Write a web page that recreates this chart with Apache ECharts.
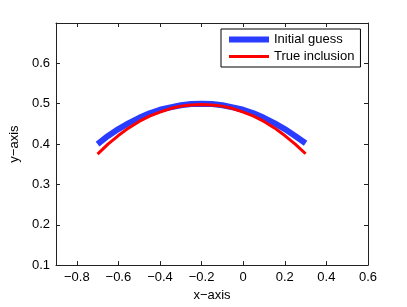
<!DOCTYPE html>
<html><head><meta charset="utf-8">
<script src="https://cdn.jsdelivr.net/npm/echarts@6/dist/echarts.min.js"></script>
<style>html,body{margin:0;padding:0;background:#fff}#c{width:407px;height:307px}</style>
</head><body><div id="c"></div>
<script>
const xValues = [-0.7,-0.65,-0.6,-0.55,-0.5,-0.45,-0.4,-0.35,-0.3,-0.25,-0.2,-0.15,-0.1,-0.05,0,0.05,0.1,0.15,0.2,0.25,0.3];
const initialGuess = [0.400,0.420,0.437,0.452,0.465,0.476,0.485,0.491,0.496,0.499,0.500,0.499,0.496,0.491,0.485,0.476,0.465,0.452,0.437,0.420,0.402];
const trueInclusion = [0.375,0.400,0.421,0.440,0.456,0.469,0.479,0.488,0.494,0.497,0.498,0.497,0.494,0.488,0.479,0.469,0.456,0.440,0.421,0.400,0.376];
const xTicks = [-0.8,-0.6,-0.4,-0.2,0,0.2,0.4,0.6];
const yTicks = [0.1,0.2,0.3,0.4,0.5,0.6];
const seriesNames = ['Initial guess','True inclusion'];
const xLabel = 'x\u2212axis', yLabel = 'y\u2212axis';

const fmt = v => {
  const r = Math.round(v*10)/10;
  return (r === 0 ? '0' : String(r)).replace('-', '\u2212');
};
const font = {fontFamily:'Liberation Sans, Arial, sans-serif', fontSize:13, color:'#000'};
const axisLineStyle = {color:'#222', width:1};
const chart = echarts.init(document.getElementById('c'), null, {renderer:'canvas'});
chart.setOption({
  animation:false,
  grid:{left:53, right:39, top:23, bottom:38, show:false},
  legend:{
    left:221, top:29, orient:'vertical',
    data:[{name:seriesNames[0], icon:'path://M0,0h40v6h-40z'},{name:seriesNames[1], icon:'path://M0,0h40v3h-40z'}],
    itemWidth:40, itemHeight:14, itemGap:4, itemTextGap:5, padding:[4,6,4,8],
    borderColor:'#000', borderWidth:1, borderRadius:0, backgroundColor:'#fff',
    textStyle:Object.assign({}, font), selectedMode:false
  },
  xAxis:[
    {type:'value', min:-0.9, max:0.6, position:'bottom',
     axisLine:{show:true, onZero:false, lineStyle:axisLineStyle},
     axisTick:{show:true, inside:true, length:4, lineStyle:axisLineStyle, customValues:xTicks},
     splitLine:{show:false},
     axisLabel:Object.assign({}, font, {formatter:fmt, margin:6, hideOverlap:false, customValues:xTicks}),
     name:xLabel, nameLocation:'middle', nameGap:22, nameTextStyle:font},
    {type:'value', min:-0.9, max:0.6, position:'top',
     axisLine:{show:true, onZero:false, lineStyle:axisLineStyle},
     axisTick:{show:true, inside:true, length:4, lineStyle:axisLineStyle, customValues:xTicks},
     axisLabel:{show:false}, splitLine:{show:false}}
  ],
  yAxis:[
    {type:'value', min:0.1, max:0.7, position:'left',
     axisLine:{show:true, onZero:false, lineStyle:axisLineStyle},
     axisTick:{show:true, inside:true, length:4, lineStyle:axisLineStyle, customValues:yTicks},
     splitLine:{show:false},
     axisLabel:Object.assign({}, font, {formatter:fmt, margin:6, customValues:yTicks}),
     name:yLabel, nameLocation:'middle', nameGap:28, nameRotate:90, nameTextStyle:font},
    {type:'value', min:0.1, max:0.7, position:'right',
     axisLine:{show:true, onZero:false, lineStyle:axisLineStyle},
     axisTick:{show:true, inside:true, length:4, lineStyle:axisLineStyle, customValues:yTicks},
     axisLabel:{show:false}, splitLine:{show:false}}
  ],
  series:[
    {name:seriesNames[0], type:'line', showSymbol:false, symbol:'none', smooth:false,
     data:xValues.map((x,i)=>[x, initialGuess[i]]),
     lineStyle:{color:'#2a3cff', width:6}, itemStyle:{color:'#2a3cff'}},
    {name:seriesNames[1], type:'line', showSymbol:false, symbol:'none', smooth:false,
     data:xValues.map((x,i)=>[x, trueInclusion[i]]),
     lineStyle:{color:'#ff0000', width:3}, itemStyle:{color:'#ff0000'}}
  ]
});
</script></body></html>
